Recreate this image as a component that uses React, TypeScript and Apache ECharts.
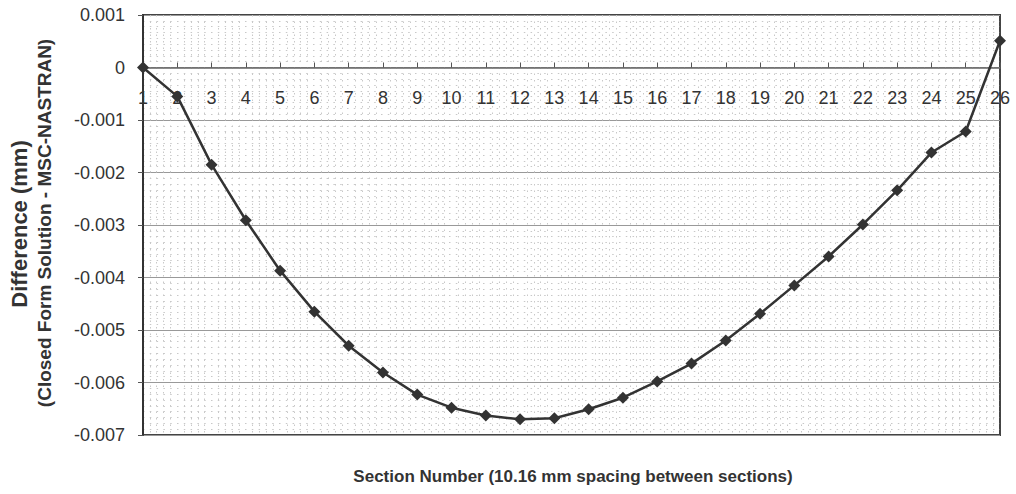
import React, { useEffect, useRef } from "react";
import * as echarts from "echarts";

const sections = [1, 2, 3, 4, 5, 6, 7, 8, 9, 10, 11, 12, 13, 14, 15, 16, 17, 18, 19, 20, 21, 22, 23, 24, 25, 26];
const differences = [
  0, -0.00055, -0.00185, -0.00291, -0.00387, -0.00465, -0.0053, -0.00581, -0.00623, -0.00648,
  -0.00663, -0.0067, -0.00668, -0.00651, -0.00629, -0.00598, -0.00564, -0.0052, -0.00469, -0.00415,
  -0.0036, -0.00299, -0.00234, -0.00162, -0.00122, 0.00051,
];
const yTitle = "Difference (mm)";
const ySubTitle = "(Closed Form Solution - MSC-NASTRAN)";
const xTitle = "Section Number (10.16 mm spacing between sections)";

export default function App() {
  const ref = useRef<HTMLDivElement>(null);
  useEffect(() => {
    document.body.style.margin = "0";
    const chart = echarts.init(ref.current!, null, { renderer: "svg" });
    const font = "'Liberation Sans', Arial, sans-serif";
    chart.setOption({
      animation: false,
      backgroundColor: "#ffffff",
      grid: {
        left: 143,
        right: 16,
        top: 15,
        bottom: 59,
        show: true,
        borderColor: "#444",
        borderWidth: 2,
      },
      xAxis: {
        type: "value",
        position: "top",
        offset: -52.5,
        min: 1,
        max: 26,
        interval: 1,
        axisLine: { show: true, onZero: false, lineStyle: { color: "#666", width: 1.5 } },
        axisTick: { show: true, inside: false, length: 5, lineStyle: { color: "#555" } },
        axisLabel: { inside: true, fontFamily: font, fontSize: 18, color: "#333", margin: 21 },
        splitLine: { show: false },
        minorTick: { show: false, splitNumber: 5 },
        minorSplitLine: { show: true, lineStyle: { color: "#c8c8c8", type: [1.5, 5], width: 1 } },
      },
      yAxis: {
        type: "value",
        min: -0.007,
        max: 0.001,
        interval: 0.001,
        axisLine: { show: true, onZero: false, lineStyle: { color: "#333", width: 2 } },
        axisTick: { show: true, length: 5, lineStyle: { color: "#555" } },
        axisLabel: {
          fontFamily: font,
          fontSize: 18,
          color: "#333",
          margin: 18,
          formatter: (v: number) => (Math.abs(v) < 1e-9 ? "0" : v.toFixed(3)),
        },
        splitLine: { show: true, lineStyle: { color: "#999", width: 1 } },
        minorTick: { show: false, splitNumber: 9 },
        minorSplitLine: { show: true, lineStyle: { color: "#c8c8c8", type: [1.5, 5.3], width: 1 } },
      },
      series: [
        {
          type: "line",
          data: sections.map((s, i) => [s, differences[i]]),
          symbol: "diamond",
          symbolSize: 12,
          itemStyle: { color: "#333" },
          lineStyle: { color: "#333", width: 2.5 },
          z: 5,
        },
      ],
      graphic: [
        {
          type: "text",
          x: 19,
          y: 224,
          rotation: Math.PI / 2,
          style: {
            text: yTitle,
            font: `bold 22px ${font}`,
            fill: "#333",
            align: "center",
            verticalAlign: "middle",
          },
        },
        {
          type: "text",
          x: 44,
          y: 223,
          rotation: Math.PI / 2,
          style: {
            text: ySubTitle,
            font: `bold 19px ${font}`,
            fill: "#333",
            align: "center",
            verticalAlign: "middle",
          },
        },
        {
          type: "text",
          x: 573,
          y: 476,
          style: {
            text: xTitle,
            font: `bold 17px ${font}`,
            fill: "#333",
            align: "center",
            verticalAlign: "middle",
          },
        },
      ],
    });
    return () => chart.dispose();
  }, []);
  return <div ref={ref} style={{ width: 1016, height: 494 }} />;
}
